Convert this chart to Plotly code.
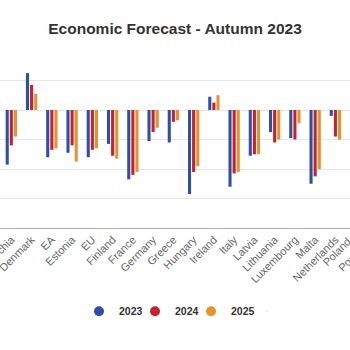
import plotly.graph_objects as go

categories = ["Czechia", "Denmark", "EA", "Estonia", "EU", "Finland", "France",
              "Germany", "Greece", "Hungary", "Ireland", "Italy", "Latvia",
              "Lithuania", "Luxembourg", "Malta", "Netherlands", "Poland", "Portugal"]
v2023 = [-3.7, 2.5, -3.2, -2.9, -3.2, -2.3, -4.7, -2.1, -2.2, -5.7, 0.9, -5.2,
         -3.1, -1.5, -1.9, -5.0, -0.4, -5.3, 0.8]
v2024 = [-2.4, 1.7, -2.7, -2.4, -2.7, -3.1, -4.4, -1.5, -0.8, -4.2, 0.5, -4.3,
         -3.0, -2.2, -2.0, -4.5, -1.8, -4.5, 0.1]
v2025 = [-1.8, 1.1, -2.6, -3.5, -2.6, -3.3, -4.2, -1.2, -0.7, -3.8, 1.0, -4.2,
         -3.0, -2.0, -0.9, -4.0, -2.0, -4.0, 0.1]
series = [("2023", v2023, "#2e4fa6"), ("2024", v2024, "#c8212e"), ("2025", v2025, "#e8922f")]

# visible window of the category axis (the chart is wider than the view)
x_range = [-0.56, 16.72]
y_range = [-8, 4]

fig = go.Figure()
for name, vals, col in series:
    fig.add_trace(go.Bar(x=categories, y=vals, name=name, marker_color=col,
                         marker_line_width=0, showlegend=False))
for name, vals, col in series:
    fig.add_trace(go.Scatter(x=[None], y=[None], mode="markers", name=name,
                             marker=dict(symbol="circle", size=10, color=col)))
# invisible spacer entry so the last legend label is not clipped
fig.add_trace(go.Scatter(x=[None], y=[None], mode="markers", name=" ",
                         marker=dict(size=1, opacity=0), hoverinfo="skip"))

font_family = "Liberation Sans, Arial, sans-serif"

# labels of categories beyond the right edge of the visible window
anns = []
span = x_range[1] - x_range[0]
for i, c in enumerate(categories):
    if i > x_range[1]:
        anns.append(dict(text=c, xref="paper", yref="paper",
                         x=(i - x_range[0]) / span, y=-0.03,
                         xanchor="right", yanchor="top", textangle=-45,
                         showarrow=False,
                         font=dict(family=font_family, size=11, color="#666666")))

fig.update_layout(
    width=350, height=350,
    margin=dict(l=0, r=0, t=51, b=122),
    paper_bgcolor="white", plot_bgcolor="white",
    barmode="group", bargap=0.39, bargroupgap=0.25,
    title=dict(text="<b>Economic Forecast - Autumn 2023</b>", x=0.5, xanchor="center",
               y=1 - 29 / 350, yanchor="middle",
               font=dict(family=font_family, size=15.5, color="#333333")),
    xaxis=dict(range=x_range, showgrid=False, showline=True, linecolor="#b3b3b3",
               linewidth=1, tickangle=-45, ticks="", automargin=False,
               tickfont=dict(family=font_family, size=11, color="#666666")),
    yaxis=dict(range=y_range, dtick=2, showgrid=True, gridcolor="#e6e6e6",
               zeroline=True, zerolinecolor="#e6e6e6", zerolinewidth=1,
               showticklabels=False, automargin=False),
    legend=dict(orientation="h", x=79 / 350, xanchor="left", y=-0.47, yanchor="middle",
                font=dict(family=font_family, size=10.5, color="#333333", weight="bold"),
                itemwidth=30, entrywidth=11, entrywidthmode="pixels"),
    annotations=anns,
)

fig.write_html("out.html")
